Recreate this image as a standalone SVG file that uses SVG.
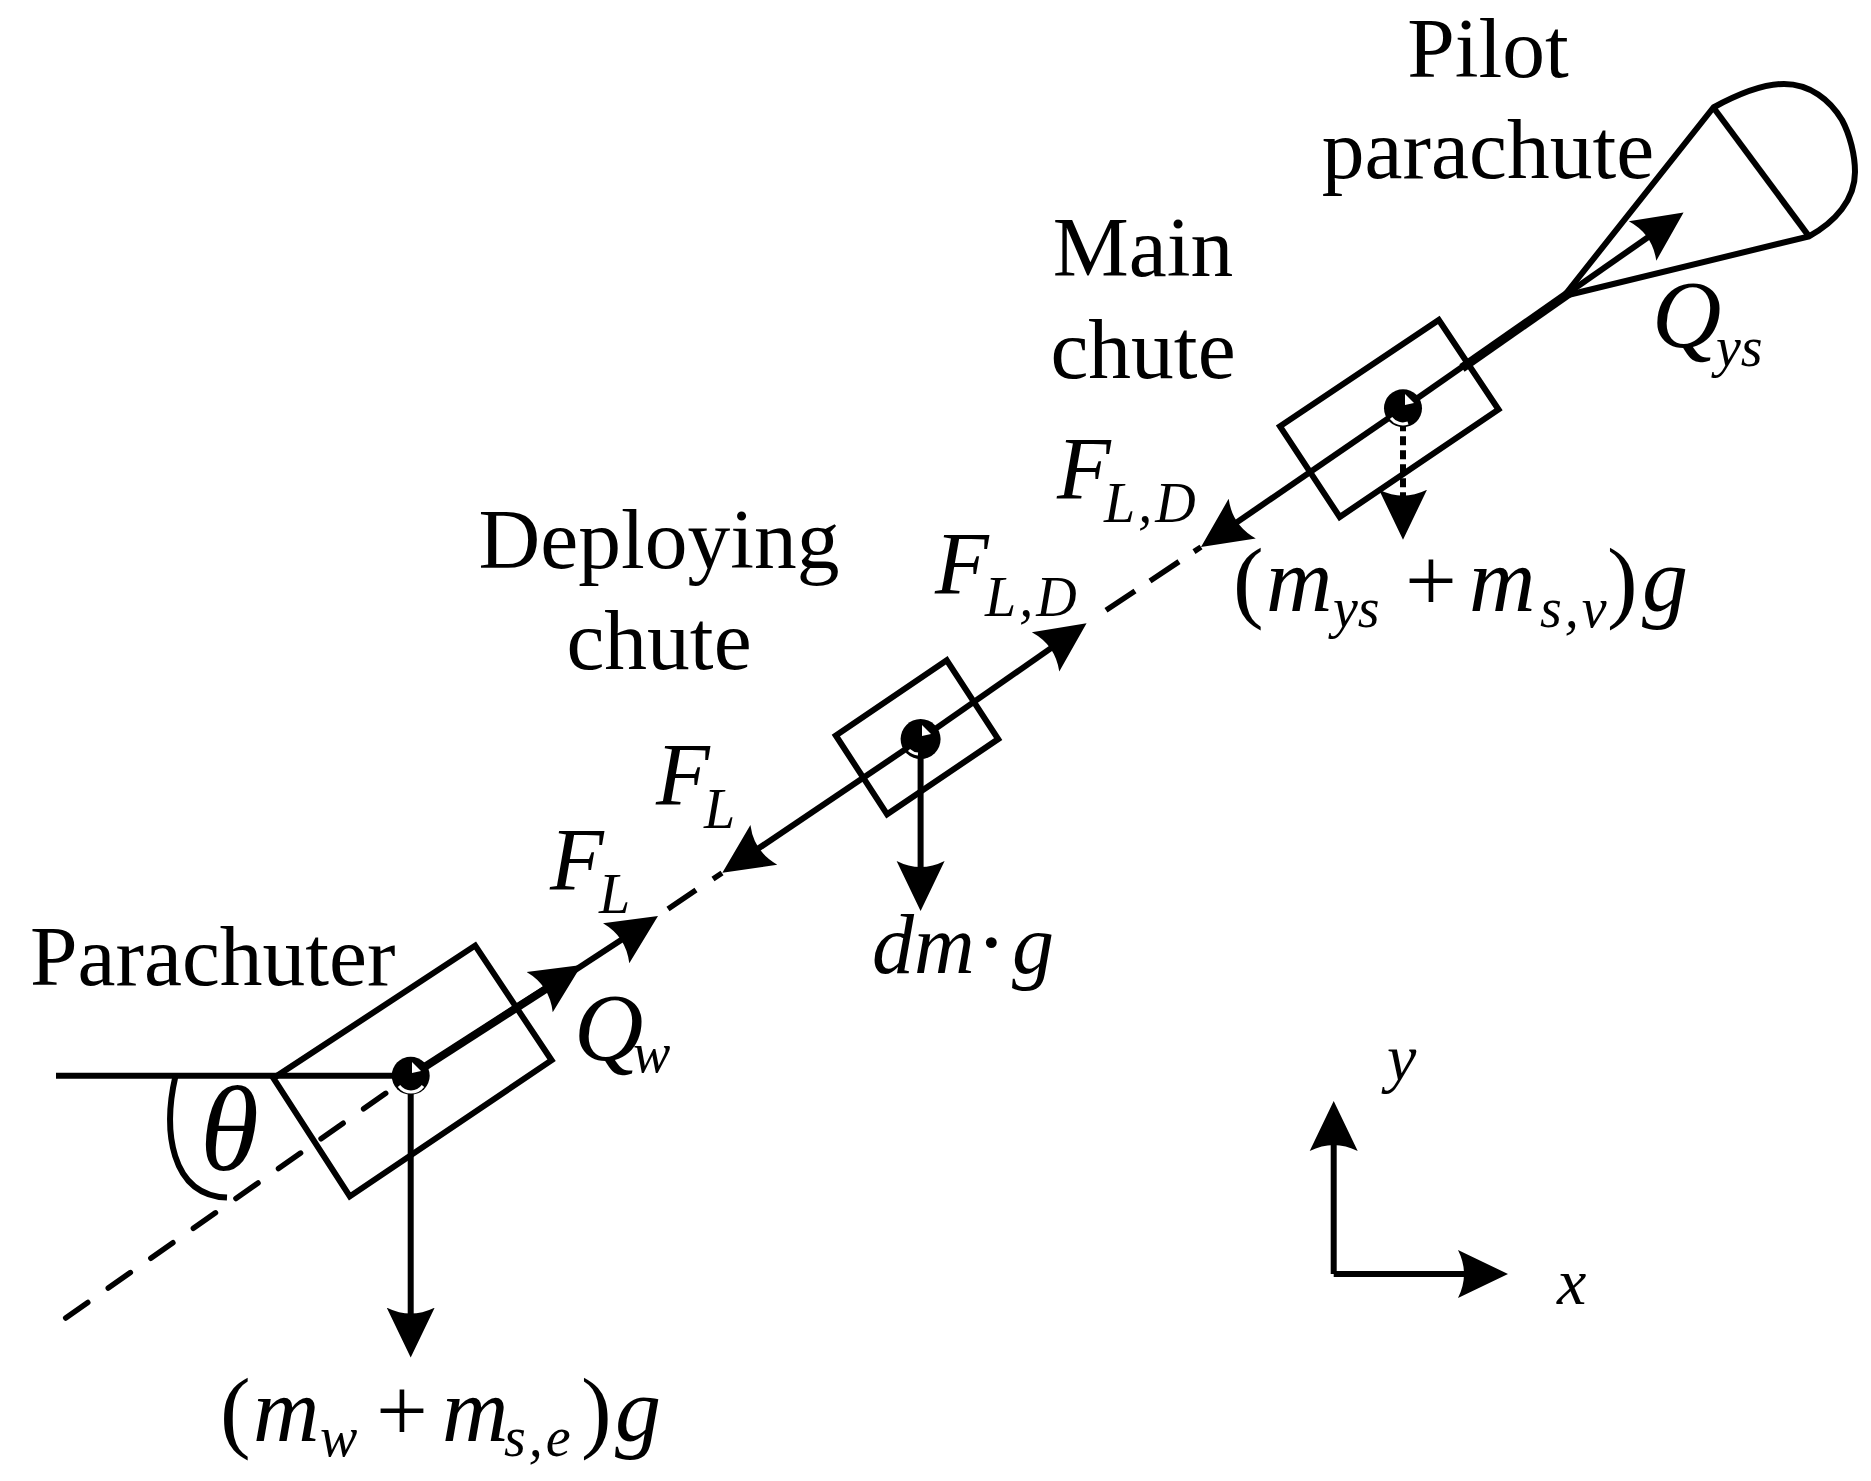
<svg xmlns="http://www.w3.org/2000/svg" width="1871" height="1481" viewBox="0 0 1871 1481">
<style>
text{font-family:"Liberation Serif","Times New Roman",serif;fill:#000}
.l{font-size:85.500px}
.m{font-size:88px;font-style:italic}
.q{font-size:96px;font-style:italic}
.g{font-size:92px;font-style:italic}
.n{font-size:92px;font-style:normal}
.s{font-size:56px;font-style:italic}
.c{text-anchor:middle}
.b{fill:none;stroke:#000;stroke-width:6;stroke-linejoin:miter}
.a{fill:none;stroke:#000;stroke-width:6;marker-end:url(#h)}
.d{fill:none;stroke:#000;stroke-width:5.500;stroke-dasharray:27 25;stroke-linecap:round}
.e{fill:none;stroke:#000;stroke-width:5.500;stroke-linecap:butt}
.w{fill:none;stroke:#fff;stroke-width:3}
.t{fill:#fff}
</style>
<defs>
<marker id="h" markerUnits="userSpaceOnUse" markerWidth="50" markerHeight="50" refX="42" refY="25" orient="auto" viewBox="0 0 50 50"><path d="M0,1 Q12,25 0,49 L50,25Z" fill="#000"/></marker>
</defs>
<rect width="1871" height="1481" fill="#fff"/>
<g id="connectors">
<path class="b" d="M56,1075.800H410.700"/>
<path class="d" d="M65.700,1318L410.700,1075.800"/>
<path class="a" d="M410.700,1075.800L574.900,969.300"/>
<path class="a" d="M560,980L651.300,920.300"/>
<path class="b" d="M410.700,1075.800L560,980" style="stroke-width:8"/>
<path class="e" d="M668,909L696,890M713,879L722,873"/>
<path class="a" d="M920.600,739.100L729,868.300"/>
<path class="a" d="M920.600,739.100L1080,627.900"/>
<path class="e" d="M1106,610.300L1135,591M1150,581L1179,561.600M1194,551.600L1201,547"/>
<path class="a" d="M1403,408.300L1207.600,542.400"/>
<path class="a" d="M410.700,1075.800V1349.600"/>
<path class="a" d="M920.600,739.100V903"/>
<path class="a" d="M1403,408.300V531.700" style="stroke-dasharray:9 5"/>
<path class="a" d="M1403,408.300L1677,217"/>
<path class="b" d="M1462,368L1570,292.500" style="stroke-width:9"/>
<path class="a" d="M1333.700,1274V1109"/>
<path class="a" d="M1333.700,1274H1500"/>
<path class="b" d="M175.500,1075.800C163,1130 170,1195 227,1197.600"/>
</g>
<g id="parachuter">
<path class="b" d="M475.200,945.600L551.600,1060.300L349.800,1196.400L273.400,1078.200Z"/>
<circle cx="410.700" cy="1075.800" r="19"/>
<path class="w" d="M399,1086A15,15 0 0 0 423,1086"/>
<path class="t" d="M412,1062L421,1071L412,1073Z"/>
<text class="l" x="30" y="985">Parachuter</text>
</g>
<g id="deploying-chute">
<path class="b" d="M946.800,660.300L998.200,739.100L887.100,814.300L835.800,735.500Z"/>
<circle cx="920.600" cy="739.100" r="20"/>
<path class="w" d="M909,750A15,15 0 0 0 918,754"/>
<path class="t" d="M922,725L931,734L922,736Z"/>
<text class="l c" x="659" y="568">Deploying</text>
<text class="l c" x="659" y="669">chute</text>
</g>
<g id="main-chute">
<path class="b" d="M1438.800,320L1498.500,409.500L1339.700,517L1280,426.300Z"/>
<circle cx="1403" cy="408.300" r="19"/>
<path class="w" d="M1391,418A15,15 0 0 0 1408,423"/>
<path class="t" d="M1405,394L1414,403L1405,405Z"/>
<text class="l c" x="1143" y="276">Main</text>
<text class="l c" x="1143" y="378">chute</text>
</g>
<g id="pilot-parachute">
<path class="b" d="M1564,296L1713.400,107.500C1740,93 1765,84 1784,84C1810,84 1830,100 1842,120C1850,135 1855,155 1855,172C1855,200 1835,222 1809,236.400L1564,296"/>
<path class="b" d="M1713.400,107.500L1809,236.400"/>
<text class="l c" x="1488" y="77">Pilot</text>
<text class="l c" x="1488" y="178">parachute</text>
</g>
<g id="labels">
<text class="q" x="1652" y="347">Q<tspan class="s" x="1716" y="366">ys</tspan></text>
<text class="m" x="1057" y="498">F<tspan class="s" x="1104" y="522" letter-spacing="3">L,D</tspan></text>
<text class="m" x="935" y="593">F<tspan class="s" x="985" y="616" letter-spacing="3">L,D</tspan></text>
<text class="m" x="656" y="804">F<tspan class="s" x="704" y="828">L</tspan></text>
<text class="m" x="550" y="889">F<tspan class="s" x="599" y="913">L</tspan></text>
<text class="q" x="574" y="1060">Q<tspan class="s" x="633" y="1072">w</tspan></text>
<text class="g" x="872" y="973" style="font-size:84px">dm<tspan x="976" class="n">·</tspan><tspan x="1012">g</tspan></text>
<text class="m" x="200" y="1170" style="font-size:120px">θ</text>
<text class="m" x="1387" y="1080" style="font-size:66px">y</text>
<text class="m" x="1557" y="1304" style="font-size:66px">x</text>
<text class="n" x="1233" y="611">(<tspan class="g" x="1266">m</tspan><tspan class="s" x="1333" y="627">ys</tspan><tspan class="n" x="1405" y="611">+</tspan><tspan class="g" x="1469">m</tspan><tspan class="s" x="1540" y="627" letter-spacing="3">s,v</tspan><tspan class="n" x="1607" y="611">)</tspan><tspan class="g" x="1642">g</tspan></text>
<text class="n" x="220" y="1441">(<tspan class="g" x="253">m</tspan><tspan class="s" x="320" y="1456">w</tspan><tspan class="n" x="376" y="1441">+</tspan><tspan class="g" x="442">m</tspan><tspan class="s" x="504" y="1456" letter-spacing="3">s,e</tspan><tspan class="n" x="581" y="1441">)</tspan><tspan class="g" x="615">g</tspan></text>
</g>
</svg>
